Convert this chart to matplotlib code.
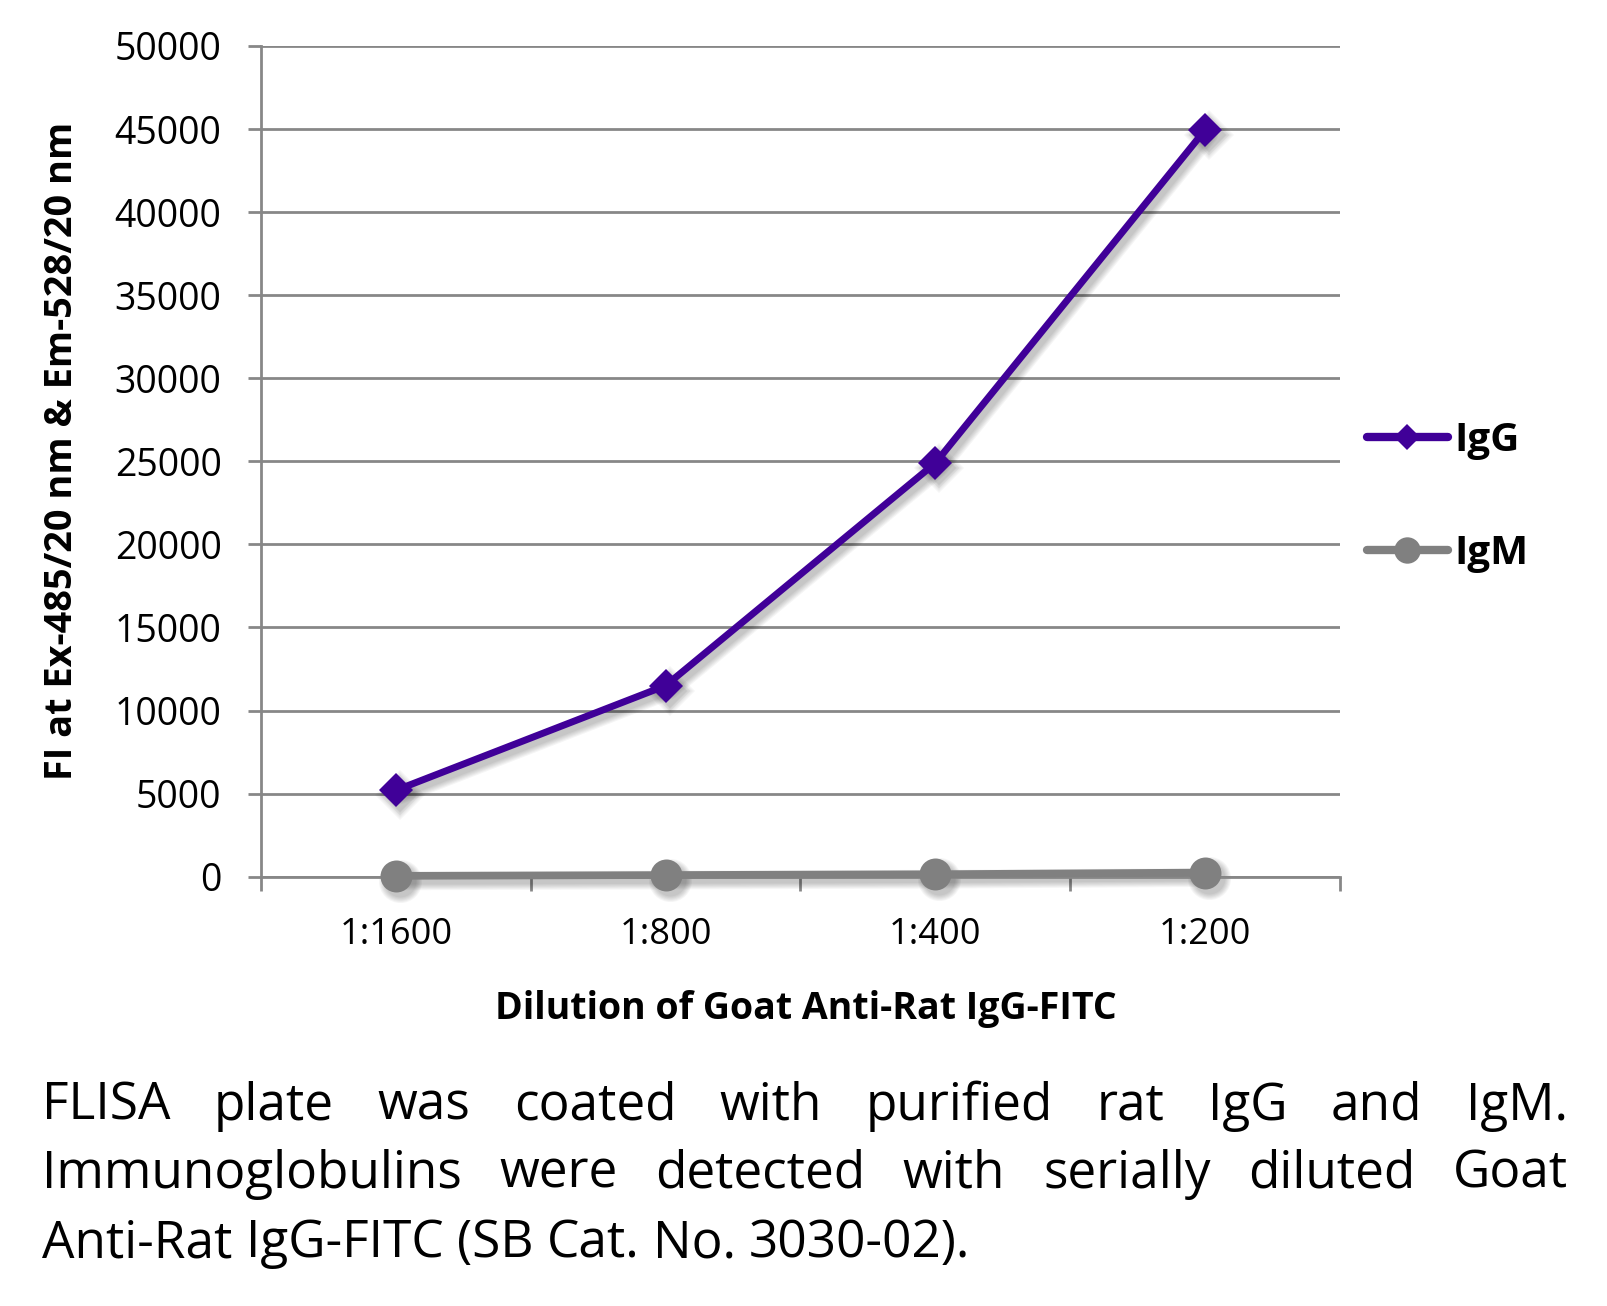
import numpy as np
import matplotlib
matplotlib.use('Agg')
import matplotlib.pyplot as plt
from matplotlib.transforms import ScaledTranslation
from matplotlib.lines import Line2D

# ---------------- data ----------------
dilutions = ['1:1600', '1:800', '1:400', '1:200']
igg_values = [5200, 11500, 24900, 44950]
igm_values = [50, 100, 150, 250]
series_names = ['IgG', 'IgM']
y_ticks = [0, 5000, 10000, 15000, 20000, 25000, 30000, 35000, 40000, 45000, 50000]
x_label = 'Dilution of Goat Anti-Rat IgG-FITC'
y_label = 'FI at Ex-485/20 nm & Em-528/20 nm'
caption_lines = [
    'FLISA plate was coated with purified rat IgG and IgM.',
    'Immunoglobulins were detected with serially diluted Goat',
    'Anti-Rat IgG-FITC (SB Cat. No. 3030-02).',
]

# ---------------- style ----------------
W, H = 1608, 1306
plt.rcParams['font.family'] = ['Open Sans', 'DejaVu Sans']
purple = '#400098'
gray = '#808080'
gridc = '#878787'

fig = plt.figure(figsize=(W / 100, H / 100), dpi=100)
L, R, T, B = 261, 1340, 46, 876.7
ax = fig.add_axes([L / W, 1 - B / H, (R - L) / W, (B - T) / H])

x = np.arange(len(dilutions)) + 0.5
ax.set_xlim(0, len(dilutions))
ax.set_ylim(y_ticks[0], y_ticks[-1])


def shadow(yv, lw, marker, ms):
    off = ScaledTranslation(4 / 100, -5 / 100, fig.dpi_scale_trans)
    for k in range(6):
        ax.plot(x, yv, color='black', alpha=0.04, lw=lw + 1.6 * k,
                marker=marker, ms=ms + 1.6 * k, mew=0,
                solid_capstyle='round', solid_joinstyle='round',
                transform=ax.transData + off, zorder=2, clip_on=False)


shadow(igg_values, 5, 'D', 17)
shadow(igm_values, 5.5, 'o', 23)
ax.plot(x, igg_values, color=purple, lw=5, marker='D', ms=17, mew=0,
        zorder=4, clip_on=False)
ax.plot(x, igm_values, color=gray, lw=5.5, marker='o', ms=23, mew=0,
        zorder=4, clip_on=False)

# axes styling
for s in ['top', 'right']:
    ax.spines[s].set_visible(False)
for s in ['left', 'bottom']:
    ax.spines[s].set_color(gridc)
    ax.spines[s].set_linewidth(2)
ax.set_axisbelow(True)
ax.yaxis.grid(True, color=gridc, lw=2)

ax.set_yticks(y_ticks)
ax.set_yticklabels([str(v) for v in y_ticks])
ax.tick_params(axis='y', length=9.4, width=2, color=gridc, pad=19, labelsize=27)

ax.set_xticks(range(len(dilutions) + 1))
ax.set_xticklabels([])
ax.set_xticks(x, minor=True)
ax.set_xticklabels(dilutions, minor=True)
ax.tick_params(axis='x', which='major', length=10, width=2, color=gridc)
ax.tick_params(axis='x', which='minor', length=0, pad=29, labelsize=26)

ax.set_ylabel(y_label, fontsize=27.3, fontweight='bold', va='center')
ax.yaxis.set_label_coords((62 - L) / (R - L), (B - 451) / (B - T))
ax.set_xlabel(x_label, fontsize=27, fontweight='bold', va='center')
ax.xaxis.set_label_coords((806 - L) / (R - L), (B - 1009) / (B - T))

# legend
h1 = Line2D([], [], color=purple, lw=6, marker='D', ms=13, mew=0, solid_capstyle='round')
h2 = Line2D([], [], color=gray, lw=6, marker='o', ms=19, mew=0, solid_capstyle='round')
ax.legend([h1, h2], series_names, loc='center left',
          bbox_to_anchor=(1367 / W, 1 - 497 / H), bbox_transform=fig.transFigure,
          frameon=False, prop=dict(weight='bold', size=29),
          handlelength=2.0, handletextpad=0.18, labelspacing=1.84,
          borderpad=0, borderaxespad=0)

# caption (justified)
renderer = fig.canvas.get_renderer()
cap_fs = 37
left_px, right_px = 42, 1568
baselines = [1120, 1188, 1257]
probe1 = fig.text(0, 0, 'x x', fontsize=cap_fs)
probe2 = fig.text(0, 0, 'xx', fontsize=cap_fs)
space_w = probe1.get_window_extent(renderer).width - probe2.get_window_extent(renderer).width
probe1.remove()
probe2.remove()
for i, line in enumerate(caption_lines):
    words = line.split()
    texts = [fig.text(0, 0, w, fontsize=cap_fs, va='baseline', ha='left') for w in words]
    widths = [t.get_window_extent(renderer).width for t in texts]
    if i < len(caption_lines) - 1:
        gap = (right_px - left_px - sum(widths)) / (len(words) - 1)
    else:
        gap = space_w
    xpos = left_px
    for t, w in zip(texts, widths):
        t.set_position((xpos / W, 1 - baselines[i] / H))
        xpos += w + gap

fig.savefig('out.png', dpi=100)
